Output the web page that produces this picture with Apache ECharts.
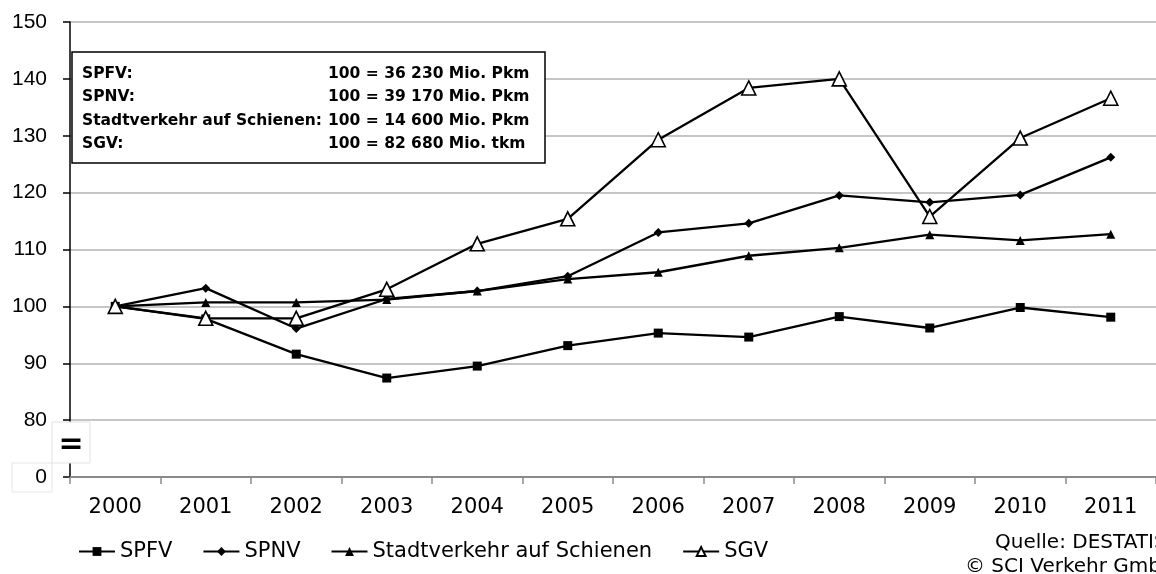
<!DOCTYPE html>
<html>
<head>
<meta charset="utf-8">
<script src="https://cdn.jsdelivr.net/npm/echarts@6/dist/echarts.min.js"></script>
<style>
html,body{margin:0;padding:0;background:#fff;}
#chart{width:1156px;height:574px;}
</style>
</head>
<body>
<div id="chart"></div>
<script>
// ---- data ----
var years = ['2000','2001','2002','2003','2004','2005','2006','2007','2008','2009','2010','2011'];
var spfv  = [100, 97.8, 91.6, 87.4, 89.5, 93.1, 95.3, 94.6, 98.2, 96.2, 99.8, 98.1];
var spnv  = [100, 103.2, 96.1, 101.3, 102.7, 105.3, 113.0, 114.6, 119.5, 118.3, 119.6, 126.2];
var stadt = [100, 100.7, 100.7, 101.2, 102.7, 104.8, 106.0, 108.9, 110.3, 112.6, 111.6, 112.7];
var sgv   = [100, 97.9, 97.9, 103.0, 111.0, 115.4, 129.3, 138.4, 140.0, 115.8, 129.6, 136.6];
var seriesNames = ['SPFV', 'SPNV', 'Stadtverkehr auf Schienen', 'SGV'];
var boxLabels = ['SPFV:', 'SPNV:', 'Stadtverkehr auf Schienen:', 'SGV:'];
var boxValues = ['100 = 36 230 Mio. Pkm', '100 = 39 170 Mio. Pkm', '100 = 14 600 Mio. Pkm', '100 = 82 680 Mio. tkm'];
var sourceLines = ['Quelle: DESTATIS', '\u00A9 SCI Verkehr GmbH'];
var yMin = 70, yMax = 150, yStep = 10, breakValue = 70, breakLabel = '0';

var chart = echarts.init(document.getElementById('chart'), null, {renderer: 'canvas'});

function lineSeries(name, data, symbol, size, fill) {
  return {
    name: name, type: 'line', data: data,
    symbol: symbol, symbolSize: size,
    showAllSymbol: true,
    lineStyle: {color: '#000', width: 2.3},
    itemStyle: {color: fill, borderColor: '#000', borderWidth: fill === '#fff' ? 1.6 : 0},
    emphasis: {disabled: true},
    animation: false
  };
}

var graphics = [
  {type: 'rect', z: 100, shape: {x: 72, y: 52, width: 473, height: 111},
   style: {fill: '#fff', stroke: '#000', lineWidth: 1.5}},
  // axis-break marker
  {type: 'rect', z: 100, shape: {x: 52, y: 422, width: 38, height: 41},
   style: {fill: '#fff', stroke: '#e2e2e2', lineWidth: 1}},
  {type: 'text', z: 101, x: 71, y: 445,
   style: {text: '=', fill: '#000', font: 'bold 30px "DejaVu Sans"', align: 'center', verticalAlign: 'middle'}},
  {type: 'rect', z: 1, shape: {x: 12, y: 463, width: 40, height: 29},
   style: {fill: 'none', stroke: '#e6e6e6', lineWidth: 1}}
];
for (var i = 0; i < boxLabels.length; i++) {
  graphics.push({type: 'text', z: 101, x: 82, y: 74 + i * 23.3,
    style: {text: boxLabels[i], fill: '#000', font: 'bold 15.5px "DejaVu Sans"', verticalAlign: 'middle'}});
  graphics.push({type: 'text', z: 101, x: 328, y: 74 + i * 23.3,
    style: {text: boxValues[i], fill: '#000', font: 'bold 15.5px "DejaVu Sans"', verticalAlign: 'middle'}});
}
graphics.push({type: 'text', z: 101, x: 995, y: 543,
  style: {text: sourceLines[0], fill: '#000', font: '20px "DejaVu Sans"', verticalAlign: 'middle'}});
graphics.push({type: 'text', z: 101, x: 965, y: 567,
  style: {text: sourceLines[1], fill: '#000', font: '20px "DejaVu Sans"', verticalAlign: 'middle'}});

var option = {
  backgroundColor: '#fff',
  animation: false,
  grid: {left: 70, right: -8, top: 22, bottom: 97, containLabel: false},
  legend: {
    data: seriesNames,
    left: 73, top: 536,
    itemWidth: 36, itemHeight: 11, itemGap: 30,
    textStyle: {color: '#000', fontSize: 21, fontFamily: 'DejaVu Sans'},
    selectedMode: false
  },
  xAxis: {
    type: 'category', data: years, boundaryGap: true,
    axisLine: {show: true, lineStyle: {color: '#8a8a8a', width: 2}},
    axisTick: {show: true, length: 7, lineStyle: {color: '#8a8a8a', width: 1.5}},
    axisLabel: {color: '#000', fontSize: 21, fontFamily: 'DejaVu Sans', margin: 20},
    splitLine: {show: false}
  },
  yAxis: {
    type: 'value', min: yMin, max: yMax, interval: yStep,
    axisLine: {show: true, lineStyle: {color: '#000', width: 1.5}},
    axisTick: {show: true, length: 7, lineStyle: {color: '#000', width: 1.5}},
    axisLabel: {color: '#000', fontSize: 21, fontFamily: 'Liberation Sans', margin: 23,
      formatter: function (v) { return v === breakValue ? breakLabel : String(v); }},
    splitLine: {show: true, lineStyle: {color: '#b3b3b3', width: 1.5}}
  },
  series: [
    lineSeries(seriesNames[0], spfv, 'rect', 9, '#000'),
    lineSeries(seriesNames[1], spnv, 'diamond', 9, '#000'),
    lineSeries(seriesNames[2], stadt, 'triangle', 9, '#000'),
    lineSeries(seriesNames[3], sgv, 'triangle', 14, '#fff')
  ],
  graphic: graphics
};
chart.setOption(option);
</script>
</body>
</html>
